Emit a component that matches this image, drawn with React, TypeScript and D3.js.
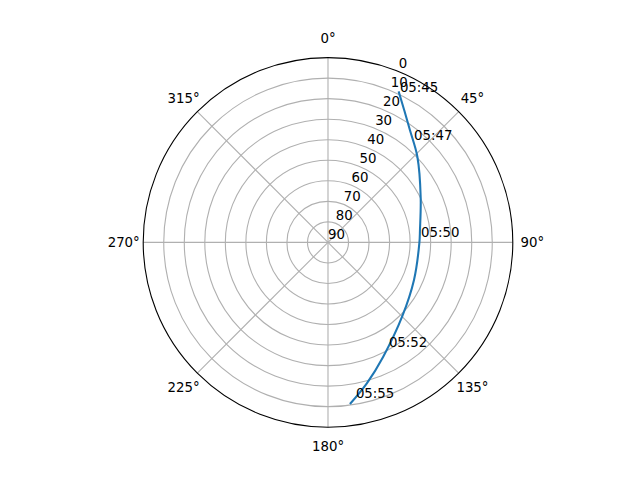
import React from "react";
import { scaleLinear, lineRadial, curveCatmullRom } from "d3";

// satellite pass: azimuth (deg, clockwise from north) and elevation (deg)
const trackAz = [25.3, 29.9, 36.1, 46.2, 63.8, 82.3, 90.3, 113.6, 134.8, 154.2, 164.6, 172.0];
const trackEl = [9.2, 15.6, 22.3, 29.7, 39.7, 44.8, 45.5, 44.3, 39.0, 28.2, 18.8, 10.9];

const timeLabels = ["05:45", "05:47", "05:50", "05:52", "05:55"];
const labelAz = [25.3, 39.7, 86.6, 150.2, 170.2];
const labelEl = [9.2, 25.2, 45.1, 31.3, 13.1];

const thetaTicks = [0, 45, 90, 135, 180, 225, 270, 315];
const rTicks = [0, 10, 20, 30, 40, 50, 60, 70, 80, 90];

const W = 640;
const H = 480;
const cx = 328;
const cy = 242.4;
const R = 184.8;
const FONT = "DejaVu Sans, sans-serif";
const rad = (d: number) => (d * Math.PI) / 180;

const App: React.FC = () => {
    const rScale = scaleLinear().domain([90, 0]).range([0, R]);

    const px = (az: number, el: number) => ({
        x: cx + rScale(el) * Math.sin(rad(az)),
        y: cy - rScale(el) * Math.cos(rad(az)),
    });

    const track = trackAz.map((az, i) => ({ az, el: trackEl[i] }));
    const path = lineRadial<{ az: number; el: number }>()
        .angle((d) => rad(d.az))
        .radius((d) => rScale(d.el))
        .curve(curveCatmullRom.alpha(0.5))(track) ?? "";

    const labelAngle = 22.5;

    return (
        <svg width={W} height={H} style={{ position: "absolute", left: 0, top: 0, background: "#fff" }}
            fontFamily={FONT} fontSize={13.33}>
            <rect width={W} height={H} fill="#fff" />
            <g transform={`translate(${cx}, ${cy})`}>
                {/* radial grid rings */}
                {rTicks.filter((t) => t > 0 && t < 90).map((t) => (
                    <circle key={`ring-${t}`} r={rScale(t)} fill="none" stroke="#b0b0b0" strokeWidth={1.1} />
                ))}
                {/* angular grid lines */}
                {thetaTicks.map((t) => (
                    <line key={`spoke-${t}`} x1={0} y1={0}
                        x2={R * Math.sin(rad(t))} y2={-R * Math.cos(rad(t))}
                        stroke="#b0b0b0" strokeWidth={1.1} />
                ))}
                <circle r={R} fill="none" stroke="#000" strokeWidth={1.1} />
                {/* theta labels */}
                {thetaTicks.map((t) => (
                    <text key={`tl-${t}`} x={(R + 19.5) * Math.sin(rad(t))} y={-(R + 19.5) * Math.cos(rad(t))}
                        textAnchor="middle" dy="0.35em" fill="#000">{`${t}°`}</text>
                ))}
                {/* radial labels */}
                {rTicks.map((t) => (
                    <text key={`rl-${t}`} x={rScale(t) * Math.sin(rad(labelAngle))}
                        y={-rScale(t) * Math.cos(rad(labelAngle)) - 3.5}
                        textAnchor="start" fill="#000">{t}</text>
                ))}
                <path d={path} fill="none" stroke="#1f77b4" strokeWidth={2.08} strokeLinecap="square" />
            </g>
            {/* time annotations */}
            {timeLabels.map((lbl, i) => {
                const p = px(labelAz[i], labelEl[i]);
                return (
                    <text key={`ann-${lbl}`} x={p.x + 1} y={p.y} textAnchor="start" fill="#000">{lbl}</text>
                );
            })}
        </svg>
    );
};

export default App;
